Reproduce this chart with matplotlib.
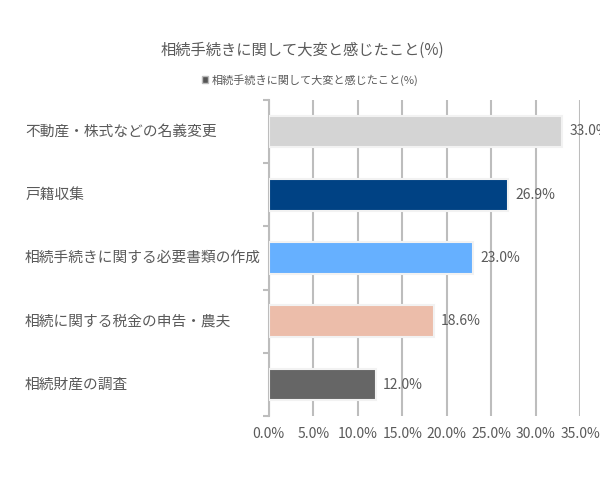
import matplotlib
matplotlib.use("Agg")
import matplotlib.pyplot as plt
import matplotlib.transforms as mtransforms
from matplotlib.patches import Patch

plt.rcParams['font.family'] = ['Noto Sans CJK JP', 'DejaVu Sans']

categories = ["不動産・株式などの名義変更", "戸籍収集", "相続手続きに関する必要書類の作成",
              "相続に関する税金の申告・農夫", "相続財産の調査"]
values = [33.0, 26.9, 23.0, 18.6, 12.0]
colors = ["#d4d4d4", "#004284", "#66b0ff", "#ecbdaa", "#666666"]
xticks = [0, 5, 10, 15, 20, 25, 30, 35]
series_name = "相続手続きに関して大変と感じたこと(%)"

text_color = "#5a5a5a"
grid_color = "#bdbdbd"

fig = plt.figure(figsize=(6, 4.8), dpi=100)
ax = fig.add_axes([0.448, 0.133, 0.519, 0.659])

ypos = list(range(len(categories)))
bars = ax.barh(ypos, values, height=0.5, color=colors, edgecolor="#f2f2f2",
               linewidth=1.5, zorder=3)

ax.set_xlim(0, 35)
ax.set_ylim(len(categories) - 0.5, -0.5)
ax.set_xticks(xticks)
ax.set_xticklabels([f"{t:.1f}%" for t in xticks], fontsize=10, color=text_color)
ax.tick_params(axis='x', length=0, pad=8)
ax.xaxis.grid(True, color=grid_color, linewidth=1.5, zorder=0)

ax.set_yticks([i - 0.5 for i in range(len(categories) + 1)])
ax.set_yticklabels([])
ax.tick_params(axis='y', length=4, color=grid_color, width=1.5)

for s in ['top', 'right', 'bottom']:
    ax.spines[s].set_visible(False)
ax.spines['left'].set_color(grid_color)
ax.spines['left'].set_linewidth(1.5)

trans = mtransforms.blended_transform_factory(fig.transFigure, ax.transData)
for y, name in zip(ypos, categories):
    ax.text(25 / 600, y, name, transform=trans, ha='left', va='center',
            fontsize=10.6, color=text_color)

# the first label runs past the right edge in the reference as well
for b, v in zip(bars, values):
    ax.annotate(f"{v:.1f}%", (v, b.get_y() + b.get_height() / 2),
                xytext=(5, 0), textcoords='offset points', ha='left', va='center',
                fontsize=10, color=text_color, annotation_clip=False)

fig.text(302 / 600, 1 - 50 / 480, series_name, ha='center', va='center',
         fontsize=11, color=text_color)
fig.legend(handles=[Patch(facecolor="#555555", edgecolor="#bbbbbb")],
           labels=[series_name], loc='center', bbox_to_anchor=(310 / 600, 1 - 80 / 480),
           frameon=False, fontsize=8, handlelength=0.6, handleheight=0.6,
           handletextpad=0.3, labelcolor=text_color)

fig.savefig("out.png", dpi=100)
